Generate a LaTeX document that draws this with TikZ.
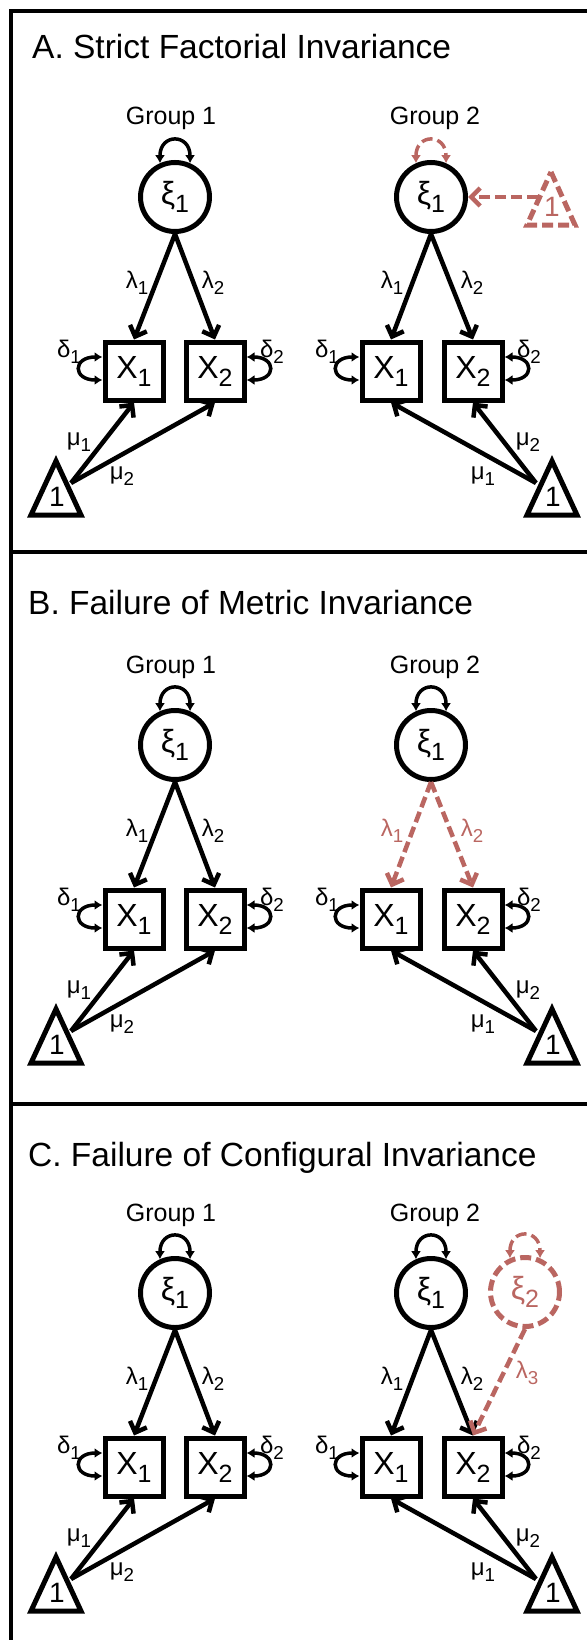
\documentclass[tikz,border=0pt]{standalone}
\usepackage{fontspec}
\setmainfont{Liberation Sans}
\usepackage{graphicx}
\usetikzlibrary{arrows.meta}
\definecolor{dred}{RGB}{186,102,97}
\newcommand\lo[1]{\raisebox{-0.25em}{\scalebox{0.78}{#1}}}
\newcommand\fTitle{\fontsize{33.5}{40}\selectfont}
\newcommand\fGroup{\fontsize{25}{30}\selectfont}
\newcommand\fBig{\fontsize{32}{38}\selectfont}
\newcommand\fLab{\fontsize{24}{28}\selectfont}
\newcommand\fOne{\fontsize{28}{32}\selectfont}
\tikzset{
  frame/.style={line width=4.5pt},
  latent/.style={circle, draw, line width=5pt, minimum size=69pt, inner sep=0pt, font=\fBig},
  obs/.style={rectangle, draw, line width=5pt, minimum size=58pt, inner sep=0pt, font=\fBig},
  tri/.style={line width=5pt, line join=miter},
  onelab/.style={inner sep=0pt, font=\fOne},
  lab/.style={inner sep=0pt, font=\fLab},
  grp/.style={inner sep=0pt, font=\fGroup, anchor=base},
  ttl/.style={inner sep=0pt, font=\fTitle, anchor=base west},
  pth/.style={line width=4.5pt, -{Straight Barb[length=9pt,width=18pt]}},
  sloop/.style={line width=3.5pt, {Latex[length=8pt,width=10pt]}-{Latex[length=8pt,width=10pt]}},
  red dash/.style={draw=dred, dash pattern=on 11pt off 5pt},
}
\newcommand\basepanel[4]{%
  % #1 suffix, #2 style g2 lambda arrows, #3 style g2 lambda labels, #4 style g2 variance loop
  \node[grp] (ga#1) at (171,125) {Group 1};
  \node[latent] (ca#1) at (175,197) {ξ\lo{1}};
  \node[obs] (xa#1) at (134,371) {X\lo{1}};
  \node[obs] (xb#1) at (215,371) {X\lo{2}};
  \draw[tri] (56,461) -- (81,515) -- (31,515) -- cycle;
  \node[onelab] (ta#1) at (57,497) {1};
  \coordinate (sa#1) at (71,483);
  \draw[sloop] (ca#1.114) .. controls +(0,-30) and +(0,-30) .. (ca#1.66);
  \draw[sloop] ([yshift=14pt]xa#1.west) .. controls +(-30,0) and +(-30,0) .. ([yshift=-9pt]xa#1.west);
  \draw[sloop] ([yshift=14pt]xb#1.east) .. controls +(30,0) and +(30,0) .. ([yshift=-9pt]xb#1.east);
  \draw[pth] (ca#1.south) -- (xa#1.north);
  \draw[pth] (ca#1.south) -- (xb#1.north);
  \draw[pth] (sa#1) -- (xa#1.south);
  \draw[pth] (sa#1) -- (xb#1.south);
  \node[lab] (la#1) at (137,283) {λ\lo{1}};
  \node[lab] (lb#1) at (213,283) {λ\lo{2}};
  \node[lab] (da#1) at (69,352) {δ\lo{1}};
  \node[lab] (db#1) at (272,352) {δ\lo{2}};
  \node[lab] (ma#1) at (79,442) {μ\lo{1}};
  \node[lab] (mb#1) at (122,476) {μ\lo{2}};
  % group 2
  \node[grp] (gb#1) at (435,125) {Group 2};
  \node[latent] (cb#1) at (431,197) {ξ\lo{1}};
  \node[obs] (xc#1) at (391,371) {X\lo{1}};
  \node[obs] (xd#1) at (473,371) {X\lo{2}};
  \draw[tri] (552,461) -- (577,515) -- (527,515) -- cycle;
  \node[onelab] (tb#1) at (553,497) {1};
  \coordinate (sb#1) at (536,483);
  \draw[sloop,#4] (cb#1.114) .. controls +(0,-30) and +(0,-30) .. (cb#1.66);
  \draw[sloop] ([yshift=14pt]xc#1.west) .. controls +(-30,0) and +(-30,0) .. ([yshift=-9pt]xc#1.west);
  \draw[sloop] ([yshift=14pt]xd#1.east) .. controls +(30,0) and +(30,0) .. ([yshift=-9pt]xd#1.east);
  \draw[pth,#2] (cb#1.south) -- (xc#1.north);
  \draw[pth,#2] (cb#1.south) -- (xd#1.north);
  \draw[pth] (sb#1) -- (xc#1.south);
  \draw[pth] (sb#1) -- (xd#1.south);
  \node[lab,#3] (lc#1) at (392,283) {λ\lo{1}};
  \node[lab,#3] (ld#1) at (472,283) {λ\lo{2}};
  \node[lab] (dc#1) at (327,352) {δ\lo{1}};
  \node[lab] (dd#1) at (529,352) {δ\lo{2}};
  \node[lab] (md#1) at (528,442) {μ\lo{2}};
  \node[lab] (mc#1) at (483,476) {μ\lo{1}};
}
\begin{document}
\begin{tikzpicture}[x=1pt,y=-1pt]
\useasboundingbox (0,0) rectangle (586,1640);
% frame
\draw[frame] (590,11) -- (11,11) -- (11,1645);
\draw[frame] (11,552) -- (590,552);
\draw[frame] (11,1104) -- (590,1104);
% titles
\node[ttl] (tA) at (32,59) {A. Strict Factorial Invariance};
\node[ttl] (tB) at (28,614) {B. Failure of Metric Invariance};
\node[ttl] (tC) at (28,1166) {C. Failure of Configural Invariance};
% panel A
\begin{scope}
  \basepanel{A}{}{}{red dash}
  \draw[tri, red dash] (551,172) -- (575,225) -- (527,225) -- cycle;
  \node[onelab, text=dred] (tr) at (552,207) {1};
  \coordinate (trs) at (538,197);
  \draw[pth, red dash] (trs) -- (cbA.east);
\end{scope}
% panel B
\begin{scope}[shift={(0,548)}]
  \basepanel{B}{red dash}{text=dred}{}
\end{scope}
% panel C
\begin{scope}[shift={(0,1096)}]
  \basepanel{C}{}{}{}
  \node[latent, red dash, text=dred] (ce) at (525,196) {ξ\lo{2}};
  \draw[sloop, red dash] (ce.114) .. controls +(0,-30) and +(0,-30) .. (ce.66);
  \draw[pth, red dash] (ce.south) -- (xdC.north);
  \node[lab, text=dred] (le) at (527,277) {λ\lo{3}};
\end{scope}
\end{tikzpicture}
\end{document}
